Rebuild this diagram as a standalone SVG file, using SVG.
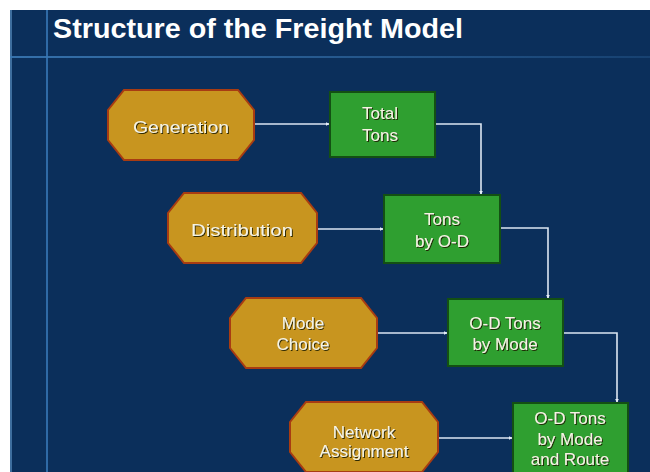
<svg xmlns="http://www.w3.org/2000/svg" width="650" height="472" viewBox="0 0 650 472">
  <defs>
    <style>
      .title { font-family: "Liberation Sans", Arial, sans-serif; font-weight: bold; font-size: 28px; fill: #ffffff; }
      .lbl { font-family: "Liberation Sans", Arial, sans-serif; font-size: 17px; fill: #f6f4e4; text-anchor: middle; filter: url(#shadow); }
      .oct { fill: #c8951f; stroke: #a83c12; stroke-width: 2; }
      .box { fill: #2f9f30; stroke: #135013; stroke-width: 2; }
      .conn { fill: none; stroke: #dce6f2; stroke-width: 1.6; marker-end: url(#arrow); }
    </style>
    <filter id="shadow" x="-10%" y="-20%" width="130%" height="150%">
      <feDropShadow dx="1" dy="1" stdDeviation="0.3" flood-color="#1a1a00" flood-opacity="0.9"/>
    </filter>
    <marker id="arrow" viewBox="0 0 6 6" refX="5" refY="3" markerWidth="4" markerHeight="4" orient="auto" markerUnits="userSpaceOnUse">
      <path d="M0,0 L6,3 L0,6 z" fill="#e6eef8"/>
    </marker>
    <linearGradient id="hline" x1="0" y1="0" x2="1" y2="0">
      <stop offset="0" stop-color="#3a78b4" stop-opacity="0.9"/>
      <stop offset="1" stop-color="#3a78b4" stop-opacity="0.25"/>
    </linearGradient>
  </defs>

  <!-- page and slide background -->
  <rect x="0" y="0" width="650" height="472" fill="#ffffff"/>
  <rect x="10" y="10" width="640" height="462" fill="#0b2f5b"/>
  <rect x="10" y="10" width="2" height="462" fill="#3e6e9e"/>

  <!-- guide lines -->
  <rect x="46" y="10" width="2" height="462" fill="#2f6aa6"/>
  <rect x="10" y="56" width="640" height="2" fill="url(#hline)"/>

  <text class="title" x="53" y="38" textLength="410" lengthAdjust="spacingAndGlyphs">Structure of the Freight Model</text>

  <!-- connectors -->
  <g id="connectors">
    <path class="conn" d="M255,124 H329"/>
    <path class="conn" d="M318,229 H383"/>
    <path class="conn" d="M378,333 H447"/>
    <path class="conn" d="M439,438 H512"/>
    <path class="conn" d="M436,124 H481 V194"/>
    <path class="conn" d="M501,228 H548 V298"/>
    <path class="conn" d="M564,333 H617 V402"/>
  </g>

  <!-- process steps (octagons) -->
  <g id="generation">
    <polygon class="oct" points="124,90 238,90 254,110 254,140 238,160 124,160 108,140 108,110"/>
    <text class="lbl" x="181" y="133" textLength="96" lengthAdjust="spacingAndGlyphs">Generation</text>
  </g>
  <g id="distribution">
    <polygon class="oct" points="184,193 301,193 317,213 317,243 301,263 184,263 168,243 168,213"/>
    <text class="lbl" x="242" y="236" textLength="102" lengthAdjust="spacingAndGlyphs">Distribution</text>
  </g>
  <g id="mode-choice">
    <polygon class="oct" points="246,298 361,298 377,318 377,348 361,368 246,368 230,348 230,318"/>
    <text class="lbl" x="303" y="329">Mode</text>
    <text class="lbl" x="303" y="350">Choice</text>
  </g>
  <g id="network-assignment">
    <polygon class="oct" points="306,402 422,402 438,422 438,452 422,472 306,472 290,452 290,422"/>
    <text class="lbl" x="364" y="438">Network</text>
    <text class="lbl" x="364" y="457">Assignment</text>
  </g>

  <!-- outputs (boxes) -->
  <g id="total-tons">
    <rect class="box" x="330" y="92" width="105" height="65"/>
    <text class="lbl" x="380" y="119">Total</text>
    <text class="lbl" x="380" y="141">Tons</text>
  </g>
  <g id="tons-by-od">
    <rect class="box" x="384" y="195" width="116" height="68"/>
    <text class="lbl" x="442" y="225">Tons</text>
    <text class="lbl" x="442" y="247">by O-D</text>
  </g>
  <g id="od-tons-by-mode">
    <rect class="box" x="448" y="299" width="115" height="67"/>
    <text class="lbl" x="505" y="329">O-D Tons</text>
    <text class="lbl" x="505" y="350">by Mode</text>
  </g>
  <g id="od-tons-by-mode-route">
    <rect class="box" x="513" y="403" width="115" height="75"/>
    <text class="lbl" x="570" y="424">O-D Tons</text>
    <text class="lbl" x="570" y="445">by Mode</text>
    <text class="lbl" x="570" y="465">and Route</text>
  </g>
</svg>
